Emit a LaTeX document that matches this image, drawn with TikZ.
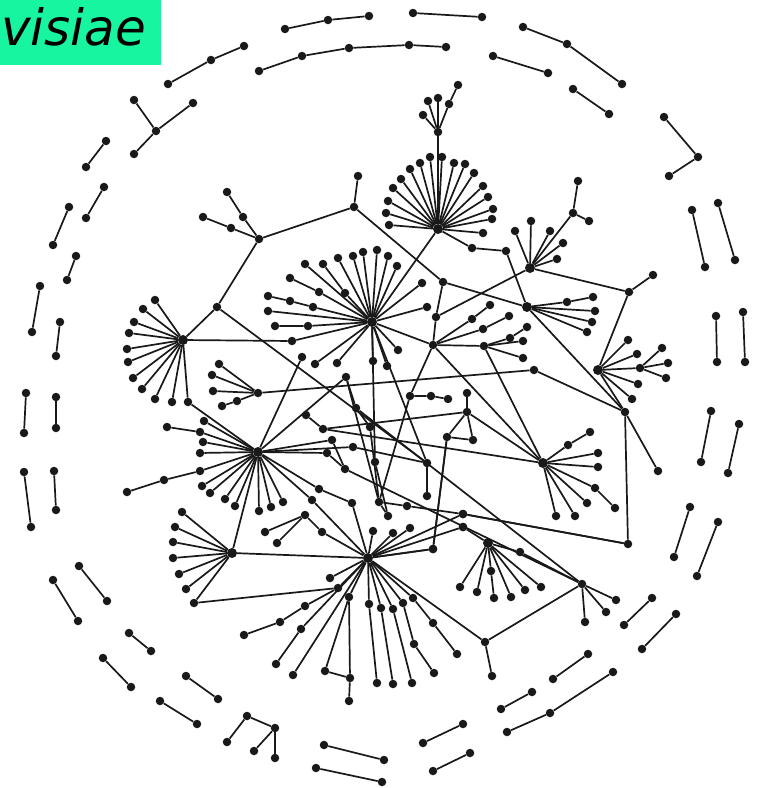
\documentclass[tikz,border=0pt]{standalone}
\usepackage{fontspec}
\newfontfamily\labfont{DejaVu Sans}
\definecolor{labgreen}{RGB}{24,245,160}
\definecolor{ink}{RGB}{25,25,25}
\tikzset{
  v/.style={circle,fill=ink,inner sep=0pt,minimum size=8.5pt},
  hub/.style={circle,fill=ink,inner sep=0pt,minimum size=10pt},
  e/.style={draw=ink,line width=1.7pt},
}
\newcommand\nd[3]{\node[v] (#1) at (#2,#3) {};}
\newcommand\hb[3]{\node[hub] (#1) at (#2,#3) {};}
\newcommand\lk[2]{\draw[e] (#1) -- (#2);}
\newcommand\fan[2]{\foreach \x/\y [count=\i] in {#2} {\node[v] (#1-\i) at (\x,\y) {}; \draw[e] (#1) -- (#1-\i);}}
\begin{document}
\begin{tikzpicture}[x=1pt,y=-1pt]
\useasboundingbox (0,0) rectangle (763,788);
\fill[white] (0,0) rectangle (763,788);
% ---------- outer ring of small components ----------
\nd{o1a}{285}{29}\nd{o1b}{328}{20}\nd{o1c}{369}{16}\draw[e] (o1a)--(o1b)--(o1c);
\nd{o2a}{259}{71}\nd{o2b}{302}{56}\nd{o2c}{349}{48}\nd{o2d}{409}{45}\nd{o2e}{446}{47}
\draw[e] (o2a)--(o2b)--(o2c)--(o2d)--(o2e);
\nd{o3a}{413}{13}\nd{o3b}{482}{17}\lk{o3a}{o3b}
\nd{o4a}{168}{84}\nd{o4b}{211}{60}\nd{o4c}{244}{46}\draw[e] (o4a)--(o4b)--(o4c);
\nd{o5}{156}{131}\nd{o5a}{134}{100}\nd{o5b}{193}{103}\nd{o5c}{134}{154}
\lk{o5}{o5a}\lk{o5}{o5b}\lk{o5}{o5c}
\nd{o6a}{106}{141}\nd{o6b}{86}{167}\lk{o6a}{o6b}
\nd{o7a}{104}{187}\nd{o7b}{86}{218}\lk{o7a}{o7b}
\nd{o8a}{69}{207}\nd{o8b}{53}{245}\lk{o8a}{o8b}
\nd{o9a}{76}{256}\nd{o9b}{67}{280}\lk{o9a}{o9b}
\nd{o10a}{40}{286}\nd{o10b}{32}{332}\lk{o10a}{o10b}
\nd{o11a}{60}{322}\nd{o11b}{56}{356}\lk{o11a}{o11b}
\nd{o12a}{26}{393}\nd{o12b}{24}{433}\lk{o12a}{o12b}
\nd{o13a}{56}{397}\nd{o13b}{56}{428}\lk{o13a}{o13b}
\nd{o14a}{24}{472}\nd{o14b}{31}{527}\lk{o14a}{o14b}
\nd{o15a}{54}{471}\nd{o15b}{56}{510}\lk{o15a}{o15b}
\nd{o16a}{79}{566}\nd{o16b}{107}{601}\lk{o16a}{o16b}
\nd{o17a}{53}{580}\nd{o17b}{78}{621}\lk{o17a}{o17b}
\nd{o18a}{129}{633}\nd{o18b}{151}{651}\lk{o18a}{o18b}
\nd{o19a}{103}{658}\nd{o19b}{131}{687}\lk{o19a}{o19b}
\nd{o20a}{186}{676}\nd{o20b}{218}{699}\lk{o20a}{o20b}
\nd{o21a}{160}{701}\nd{o21b}{197}{724}\lk{o21a}{o21b}
\nd{t1}{247}{716}\nd{t2}{227}{742}\nd{t3}{275}{728}\nd{t4}{254}{751}\nd{t5}{275}{758}
\lk{t1}{t2}\lk{t1}{t3}\lk{t3}{t4}\lk{t3}{t5}
\nd{o22a}{324}{745}\nd{o22b}{384}{760}\lk{o22a}{o22b}
\nd{o23a}{316}{768}\nd{o23b}{382}{782}\lk{o23a}{o23b}
\nd{o24a}{423}{743}\nd{o24b}{463}{724}\lk{o24a}{o24b}
\nd{o25a}{433}{771}\nd{o25b}{470}{753}\lk{o25a}{o25b}
\nd{o26a}{501}{709}\nd{o26b}{532}{692}\lk{o26a}{o26b}
\nd{o27a}{507}{732}\nd{o27b}{550}{713}\nd{o27c}{613}{672}\draw[e] (o27a)--(o27b)--(o27c);
\nd{o28a}{553}{679}\nd{o28b}{588}{654}\lk{o28a}{o28b}
\nd{o29a}{624}{625}\nd{o29b}{652}{598}\lk{o29a}{o29b}
\nd{o30a}{642}{649}\nd{o30b}{676}{614}\lk{o30a}{o30b}
\nd{o31a}{674}{557}\nd{o31b}{690}{507}\lk{o31a}{o31b}
\nd{o32a}{697}{576}\nd{o32b}{718}{522}\lk{o32a}{o32b}
\nd{o33a}{701}{462}\nd{o33b}{711}{411}\lk{o33a}{o33b}
\nd{o34a}{728}{473}\nd{o34b}{739}{424}\lk{o34a}{o34b}
\nd{o35a}{717}{362}\nd{o35b}{716}{316}\lk{o35a}{o35b}
\nd{o36a}{745}{362}\nd{o36b}{743}{312}\lk{o36a}{o36b}
\nd{o37a}{705}{267}\nd{o37b}{692}{210}\lk{o37a}{o37b}
\nd{o38a}{735}{260}\nd{o38b}{718}{203}\lk{o38a}{o38b}
\nd{o39a}{664}{117}\nd{o39b}{698}{157}\nd{o39c}{669}{176}\draw[e] (o39a)--(o39b)--(o39c);
\nd{o40a}{573}{89}\nd{o40b}{609}{114}\lk{o40a}{o40b}
\nd{o41a}{523}{27}\nd{o41b}{567}{44}\nd{o41c}{622}{84}\draw[e] (o41a)--(o41b)--(o41c);
\nd{o42a}{493}{56}\nd{o42b}{548}{73}\lk{o42a}{o42b}
% ---------- hubs ----------
\hb{H1}{438}{229}\hb{H2}{372}{322}\hb{H3}{183}{340}\hb{H4}{258}{452}
\hb{H5}{232}{553}\hb{H6}{368}{558}\hb{H7}{543}{463}\hb{H8}{598}{370}
\hb{H9}{530}{268}\hb{H10}{527}{307}\hb{H12}{488}{543}
% H1
\fan{H1}{389/225,386/213,388/201,393/188,401/179,410/169,420/163,430/157,442/157,454/163,465/164,474/173,483/186,488/197,493/209,492/219,483/233}
\nd{T}{438}{132}\lk{H1}{T}
\fan{T}{423/115,428/101,438/98,449/104}
\nd{T5}{458}{85}\lk{T-4}{T5}
% upper-left tree
\nd{A}{354}{207}\nd{A1}{358}{176}\lk{A}{A1}
\nd{B}{259}{239}\nd{B1}{243}{217}\nd{B2}{227}{192}\nd{B3}{231}{228}\nd{B4}{203}{217}
\draw[e] (B)--(B1)--(B2);\draw[e] (B)--(B3)--(B4);\lk{A}{B}
\nd{D}{217}{307}\lk{B}{D}\lk{D}{H3}
\nd{C}{443}{282}\lk{A}{C}
\nd{P1}{472}{248}\nd{P2}{506}{251}\draw[e] (H1)--(P1)--(P2)--(H10);
\lk{H1}{H2}
% H2
\fan{H2}{268/311,305/264,338/258,353/256,363/252,377/250,388/256,397/266,422/283,427/307,315/364,337/363,373/361,387/366,398/350}
\nd{H2a}{313}{307}\nd{H2b}{290}{301}\nd{H2c}{268}{296}\draw[e] (H2)--(H2a)--(H2b)--(H2c);
\nd{H2d}{308}{326}\nd{H2e}{275}{326}\draw[e] (H2)--(H2d)--(H2e);
\nd{H2f}{319}{292}\nd{H2g}{290}{278}\draw[e] (H2)--(H2f)--(H2g);
\nd{H2h}{345}{293}\nd{H2i}{323}{264}\draw[e] (H2)--(H2h)--(H2i);
\nd{X1}{292}{341}\lk{H2}{X1}\lk{H3}{X1}
% H3
\fan{H3}{155/300,143/309,134/322,129/333,127/349,128/362,133/378,142/389,155/399,172/402}
\nd{H3z}{188}{402}\lk{H3}{H3z}\lk{H3z}{H4}
% small fan S
\nd{S}{258}{393}\fan{S}{219/364,212/375,213/391}
\nd{S4}{237}{401}\nd{S5}{222}{406}\draw[e] (S)--(S4)--(S5);
\nd{R1}{534}{370}\lk{S}{R1}
% H4
\fan{H4}{204/421,203/442,200/453,202/486,210/493,225/499,235/506,259/511,271/507,283/502}
\nd{H4a}{200}{432}\nd{H4b}{167}{427}\draw[e] (H4)--(H4a)--(H4b);
\nd{H4c}{200}{471}\nd{H4d}{164}{480}\nd{H4e}{127}{492}\draw[e] (H4)--(H4c)--(H4d)--(H4e);
\nd{X2}{302}{357}\lk{H4}{X2}
% H5
\fan{H5}{182/512,175/527,173/542,173/558,179/574,186/589}
\nd{H5z}{194}{603}\lk{H5}{H5z}\lk{H5}{H4}\lk{H5}{H6}
% middle nodes
\nd{m1}{346}{377}\nd{m2}{410}{396}\nd{m3}{431}{396}\nd{m4}{448}{399}
\nd{m5}{467}{393}\nd{m6}{467}{412}\nd{m7}{447}{437}\nd{m8}{473}{440}
\nd{m9}{306}{415}\nd{m10}{323}{429}\nd{m11}{356}{408}\nd{m12}{370}{427}
\nd{m13}{332}{440}\nd{m14}{353}{447}\nd{m15}{327}{453}\nd{m16}{375}{462}
\nd{m17}{427}{463}\nd{m18}{345}{469}\nd{m19}{319}{489}\nd{m20}{352}{503}
\nd{m21}{379}{502}\nd{m22}{388}{516}\nd{m23}{427}{496}\nd{m24}{407}{506}
\nd{m25}{433}{549}\nd{m26}{463}{514}\nd{m27}{463}{527}\nd{U1}{312}{500}
\draw[e] (m2)--(m3)--(m4);\lk{m5}{m6}\lk{m6}{m7}\lk{m6}{m8}\lk{m7}{m8}\lk{m7}{m25}
\lk{m9}{m10}\lk{m10}{H7}\lk{m10}{m6}\lk{D}{m17}
\lk{H4}{m1}\lk{m1}{m11}\lk{m1}{m21}\lk{H4}{m13}\lk{H4}{m15}\lk{H4}{m14}
\draw[e] (H4)--(m19)--(m20);\draw[e] (H4)--(U1)--(H6);\lk{H6}{m20}
\lk{H2}{m16}\lk{H2}{m17}\lk{m17}{m23}\lk{m14}{m17}
\lk{m11}{m12}\lk{m12}{m21}\lk{m21}{m22}\lk{m21}{m24}\lk{m24}{m26}
\lk{m15}{m18}\lk{m13}{m18}\lk{m16}{m22}\lk{m2}{m21}
% C, Q, G1, G2
\nd{Q}{436}{317}\draw[e] (C)--(Q);\lk{H9}{Q}\lk{C}{H10}
\nd{G1}{433}{345}\nd{G2}{484}{346}\lk{Q}{G1}\lk{G1}{G2}\lk{H2}{G1}\lk{G1}{m2}
\nd{G1a}{472}{319}\nd{G1b}{490}{305}\nd{G1c}{483}{329}\nd{G1d}{509}{316}
\draw[e] (G1)--(G1a)--(G1b);\draw[e] (G1)--(G1c)--(G1d);
\fan{G2}{523/341,523/358}
\nd{G2a}{510}{338}\nd{G2b}{527}{327}\draw[e] (G2)--(G2a)--(G2b);
\lk{G1}{H7}\lk{G2}{H7}
% H7
\fan{H7}{598/453,598/467,587/503,575/516,556/516}
\nd{H7a}{568}{445}\nd{H7b}{590}{432}\draw[e] (H7)--(H7a)--(H7b);
\nd{H7c}{595}{488}\nd{H7d}{615}{508}\draw[e] (H7)--(H7c)--(H7d);
\lk{H7}{m6}
% H8, H9, H10
\fan{H8}{628/340,637/354,638/384,632/399}
\nd{H8s}{640}{368}\lk{H8}{H8s}\fan{H8s}{662/348,668/363,666/378}
\nd{K}{629}{292}\nd{K1}{653}{275}\lk{K}{K1}\lk{H8}{K}\lk{H9}{K}
\nd{L}{625}{412}\nd{L1}{658}{471}\nd{M}{628}{544}
\lk{H8}{L}\lk{L}{L1}\lk{L}{M}\lk{L}{R1}\lk{H10}{L}\lk{m26}{M}
\fan{H9}{515/231,531/221,550/231,563/243,557/259}
\nd{H9a}{573}{213}\nd{H9b}{578}{181}\nd{H9c}{589}{221}
\lk{H9}{H9a}\lk{H9a}{H9b}\lk{H9a}{H9c}
\fan{H10}{595/311,592/322,587/332}
\nd{H10a}{567}{302}\nd{H10b}{593}{297}\draw[e] (H10)--(H10a)--(H10b);
% H6
\fan{H6}{330/578,293/675,373/531,393/533,410/528,463/514,463/527,433/549}
\nd{H6a}{369}{604}\nd{H6b}{377}{683}\draw[e] (H6)--(H6a)--(H6b);
\nd{H6c}{381}{608}\nd{H6d}{393}{684}\draw[e] (H6)--(H6c)--(H6d);
\nd{H6e}{393}{609}\nd{H6f}{412}{683}\draw[e] (H6)--(H6e)--(H6f);
\nd{H6g}{413}{598}\nd{H6h}{433}{623}\nd{H6i}{457}{654}\draw[e] (H6)--(H6g)--(H6h)--(H6i);
\nd{H6j}{403}{603}\nd{H6k}{414}{644}\nd{H6l}{434}{673}\draw[e] (H6)--(H6j)--(H6k)--(H6l);
\nd{H6m}{338}{588}\nd{H6n}{305}{606}\nd{H6o}{280}{622}\nd{H6p}{244}{635}
\draw[e] (H6)--(H6m)--(H6n)--(H6o)--(H6p);\lk{H5z}{H6m}
\nd{H6q}{301}{629}\nd{H6r}{276}{664}\draw[e] (H6)--(H6q)--(H6r);
\nd{q1}{349}{597}\nd{q2}{325}{671}\nd{q3}{350}{678}\nd{q4}{349}{701}
\lk{H6}{q1}\lk{q1}{q2}\lk{q1}{q3}\lk{q2}{q3}\lk{q3}{q4}
\nd{W}{322}{532}\nd{W0}{305}{515}\draw[e] (H6)--(W)--(W0);
\fan{W0}{265/532,277/543}
\lk{H6}{H6-8}\lk{m7}{H6-8}
% H12 and Y2
\fan{H12}{460/587,477/592,511/597,525/590,541/587}
\nd{H12a}{491}{571}\nd{H12b}{494}{598}\draw[e] (H12)--(H12a)--(H12b);
\nd{Y2}{582}{584}\nd{H12c}{520}{552}\draw[e] (H12)--(H12c)--(Y2);
\lk{H6-7}{H12}
\fan{Y2}{616/600,606/612,585/622}
\nd{N}{485}{642}\nd{N1}{492}{676}\lk{N}{N1}\lk{N}{Y2}\lk{H6}{N}
\lk{m18}{Y2}\lk{m11}{Y2}\lk{H6-6}{M}
% label
\fill[labgreen] (0,0) rectangle (161,65);
\node[anchor=base west,inner sep=0pt,font=\labfont\itshape\fontsize{50}{58}\selectfont] (lab) at (1,45) {visiae};
\end{tikzpicture}
\end{document}
